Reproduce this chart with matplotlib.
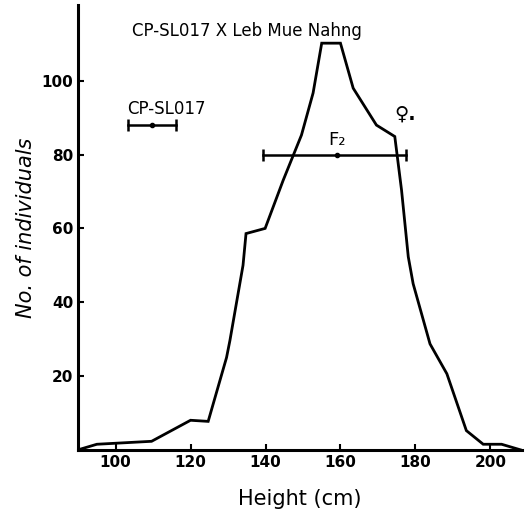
import matplotlib
matplotlib.use("Agg")
import matplotlib.pyplot as plt

# F2 height distribution
height_cm = [90, 95, 109.6, 120, 124.7, 129.6, 130.5, 134, 134.8, 139.9, 144.7,
             149.6, 152.7, 155, 160, 163.4, 169.6, 174.5, 176.3, 178.1, 179.4,
             183.9, 188.4, 193.6, 198.1, 203, 208]
n_individuals = [0, 1.5, 2.3, 8, 7.7, 25, 29.6, 50, 58.6, 60, 73,
                 85.3, 96.7, 110.2, 110.2, 98, 88, 84.9, 70.4, 52.3, 45,
                 28.7, 20.6, 5.2, 1.5, 1.5, 0]

# range bars: (low, mean, high, level)
f2_range = [139.4, 159.2, 177.5, 80]
parent_range = [103.2, 109.6, 116.1, 88]

x_ticks = [100, 120, 140, 160, 180, 200]
y_ticks = [20, 40, 60, 80, 100]

fig = plt.figure(figsize=(5.28, 5.17), dpi=100)
ax = fig.add_axes([0.148, 0.130, 0.841, 0.860])

ax.plot(height_cm, n_individuals, color="black", lw=2.0, solid_joinstyle="miter")

# range bars with end caps and a dot at the mean
for lo, mid, hi, lvl in (f2_range, parent_range):
    ax.plot([lo, hi], [lvl, lvl], color="black", lw=1.8)
    ax.plot([lo, hi], [lvl, lvl], ls="none", marker="|", ms=8, mew=1.8, color="black")
    ax.plot([mid], [lvl], ls="none", marker="o", ms=3, color="black")

ax.text(f2_range[1], f2_range[3] + 1.5, "F\u2082", ha="center", va="bottom", fontsize=13)
ax.text(parent_range[0], parent_range[3] + 2, "CP-SL017", ha="left", va="bottom", fontsize=12)
ax.text(104.5, 113.5, "CP-SL017 X Leb Mue Nahng", ha="left", va="center", fontsize=12)
ax.text(174.5, 91, "\u2640.", ha="left", va="center", fontsize=14, fontweight="bold")

ax.set_xlim(90, 208.5)
ax.set_ylim(0, 120.5)
ax.set_xticks(x_ticks)
ax.set_yticks(y_ticks)
ax.tick_params(direction="in", length=4, width=1.5, labelsize=11)
for lab in ax.get_xticklabels() + ax.get_yticklabels():
    lab.set_fontweight("bold")

for side in ("top", "right"):
    ax.spines[side].set_visible(False)
for side in ("left", "bottom"):
    ax.spines[side].set_linewidth(2.2)

ax.set_xlabel("Height (cm)", fontsize=15, labelpad=14)
ax.set_ylabel("No. of individuals", fontsize=15, style="italic", labelpad=4)

fig.savefig("out.png", dpi=100)
